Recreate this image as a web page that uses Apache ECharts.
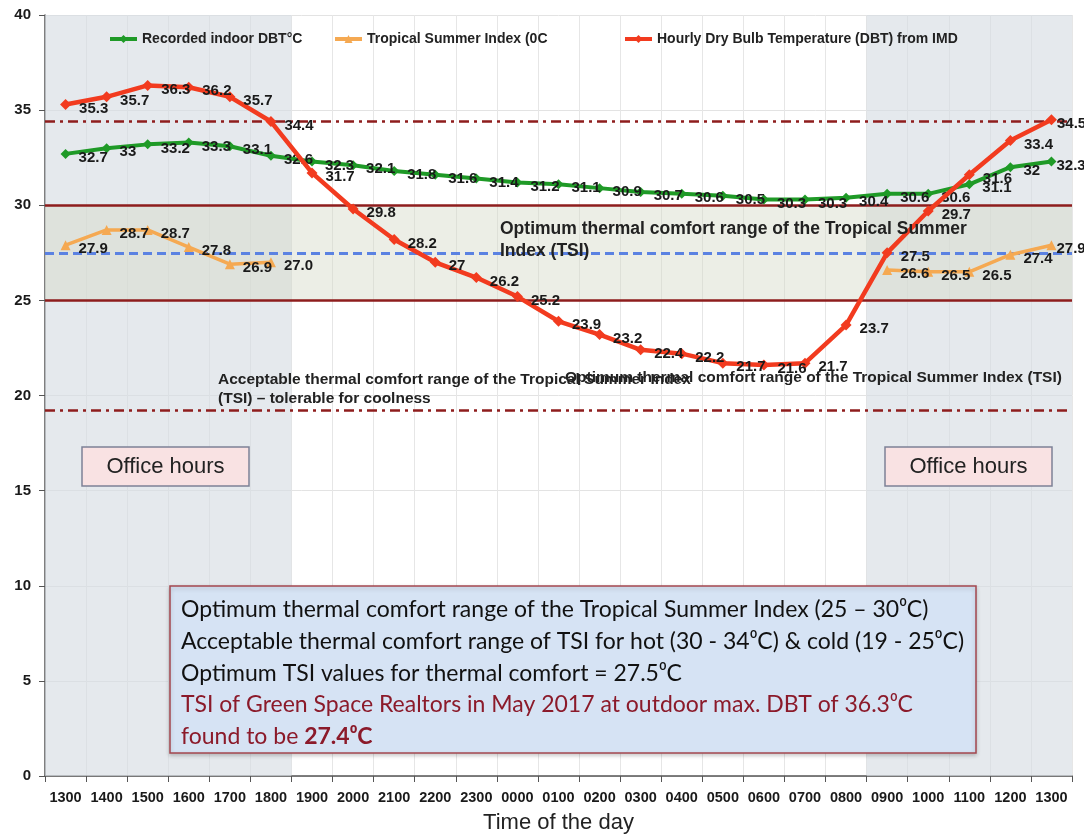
<!DOCTYPE html>
<html>
<head>
<meta charset="utf-8">
<script src="https://cdn.jsdelivr.net/npm/echarts@6/dist/echarts.min.js"></script>
<style>html,body{margin:0;padding:0;background:#fff}#c{width:1084px;height:835px}</style>
</head>
<body>
<div id="c"></div>
<script>
// ---- data ----
const categories = ['1300','1400','1500','1600','1700','1800','1900','2000','2100','2200','2300','0000','0100','0200','0300','0400','0500','0600','0700','0800','0900','1000','1100','1200','1300'];
const indoorDBT = [32.7,33,33.2,33.3,33.1,32.6,32.3,32.1,31.8,31.6,31.4,31.2,31.1,30.9,30.7,30.6,30.5,30.3,30.3,30.4,30.6,30.6,31.1,32,32.3];
const tsi = [27.9,28.7,28.7,27.8,26.9,27.0,null,null,null,null,null,null,null,null,null,null,null,null,null,null,26.6,26.5,26.5,27.4,27.9];
const outdoorDBT = [35.3,35.7,36.3,36.2,35.7,34.4,31.7,29.8,28.2,27,26.2,25.2,23.9,23.2,22.4,22.2,21.7,21.6,21.7,23.7,27.5,29.7,31.6,33.4,34.5];
const yTicks = {min:0, max:40, interval:5};
const comfortBand = [25, 30];
const optimumTSI = 27.5;
const acceptableLimits = [34.4, 19.2];
const officeSpans = [[0,5],[20,24]]; // category index ranges
const seriesNames = ['Recorded indoor DBT°C','Tropical Summer Index (0C','Hourly Dry Bulb Temperature (DBT) from IMD'];

const chart = echarts.init(document.getElementById('c'));
const F = 'Liberation Sans, Arial, sans-serif';
const darkRed = '#8e1d1d';
const labelStyle = {show:true, position:'right', offset:[3,4], color:'#1a1a1a', fontSize:15, fontWeight:'bold', fontFamily:F};
const lastIdx = categories.length - 1;
// last-point labels are pulled in so they stay inside the canvas
function withLabels(arr){
  return arr.map((v,i)=> i===lastIdx ? {value:v, label:{offset:[-5,4]}} : v);
}
const legendText = {fontSize:14, fontWeight:'bold', fontFamily:F, color:'#222'};

const option = {
  animation:false,
  grid:{left:45, right:12, top:15, bottom:59, containLabel:false, outerBoundsMode:'none'},
  legend:[
    {data:[seriesNames[0]], left:103, top:27, itemWidth:27, itemHeight:10, lineStyle:{width:4}, textStyle:legendText},
    {data:[seriesNames[1]], left:328, top:27, itemWidth:27, itemHeight:10, lineStyle:{width:4}, textStyle:legendText},
    {data:[seriesNames[2]], left:618, top:27, itemWidth:27, itemHeight:10, lineStyle:{width:4}, textStyle:legendText}
  ],
  xAxis:[
    {type:'category', data:categories, boundaryGap:true,
     name:'Time of the day', nameLocation:'middle', nameGap:36,
     nameTextStyle:{fontSize:22, fontFamily:F, color:'#222'},
     axisLine:{onZero:false, lineStyle:{color:'#555', width:1.5}},
     axisTick:{show:true, interval:0, length:6, lineStyle:{color:'#555'}},
     axisLabel:{interval:0, margin:14, fontSize:14.5, fontWeight:'bold', fontFamily:F, color:'#1a1a1a'},
     splitLine:{show:true, interval:0, lineStyle:{color:'#e6e6e6', width:1}}},
    {type:'value', min:-0.5, max:categories.length-0.5, show:false}
  ],
  yAxis:{type:'value', min:yTicks.min, max:yTicks.max, interval:yTicks.interval,
     axisLine:{show:true, onZero:false, lineStyle:{color:'#555', width:1.5}},
     axisTick:{show:true, length:6, lineStyle:{color:'#555'}},
     axisLabel:{margin:14, fontSize:15, fontWeight:'bold', fontFamily:F, color:'#1a1a1a'},
     splitLine:{show:true, lineStyle:{color:'#e3e3e3', width:1}}},
  series:[
    {type:'line', xAxisIndex:1, data:[], silent:true, z:1,
     markArea:{silent:true, itemStyle:{color:'rgba(215,221,228,0.65)'},
       data: officeSpans.map(s=>[{xAxis:s[0]-0.5},{xAxis:s[1]+0.5}])}},
    {type:'line', xAxisIndex:1, data:[], silent:true, z:2,
     markArea:{silent:true, itemStyle:{color:'rgba(212,218,200,0.45)'},
       data:[[{yAxis:comfortBand[0]},{yAxis:comfortBand[1]}]]},
     markLine:{silent:true, symbol:'none', label:{show:false},
       data:[
         {yAxis:comfortBand[0], lineStyle:{color:darkRed, width:2.5, type:'solid'}},
         {yAxis:comfortBand[1], lineStyle:{color:darkRed, width:2.5, type:'solid'}},
         {yAxis:acceptableLimits[0], lineStyle:{color:darkRed, width:2.5, type:[10,5,3,5]}},
         {yAxis:acceptableLimits[1], lineStyle:{color:darkRed, width:2.5, type:[10,5,3,5]}},
         {yAxis:optimumTSI, lineStyle:{color:'#5b82e2', width:3, type:[9,5]}}
       ]}},
    {name:seriesNames[0], type:'line', data:withLabels(indoorDBT), z:5, symbol:'diamond', symbolSize:10,
     itemStyle:{color:'#1f9a27'}, lineStyle:{color:'#1f9a27', width:4}, label:labelStyle},
    {name:seriesNames[1], type:'line', data:withLabels(tsi), z:5, symbol:'triangle', symbolSize:10, connectNulls:false,
     itemStyle:{color:'#f5a952'}, lineStyle:{color:'#f5a952', width:3.5},
     label:Object.assign({}, labelStyle, {formatter:p=>p.value==null?'':Number(p.value).toFixed(1)})},
    {name:seriesNames[2], type:'line', data:withLabels(outdoorDBT), z:6, symbol:'diamond', symbolSize:11,
     itemStyle:{color:'#f23b1f'}, lineStyle:{color:'#f23b1f', width:4.5}, label:labelStyle}
  ],
  graphic:[
    {type:'text', x:500, y:240, z:10, style:{text:'Optimum thermal comfort range of the Tropical Summer\nIndex (TSI)', font:'bold 17.5px '+F, fill:'#222', lineHeight:22, verticalAlign:'middle', textVerticalAlign:'middle'}},
    {type:'text', x:218, y:370, z:10, style:{text:'Acceptable thermal comfort range of the Tropical Summer Index\n(TSI) – tolerable for coolness', font:'bold 15.5px '+F, fill:'#222', lineHeight:19, verticalAlign:'top', textVerticalAlign:'top'}},
    {type:'text', x:565, y:370, z:10, style:{text:'Optimum thermal comfort range of the Tropical Summer Index (TSI)', font:'bold 15.5px '+F, fill:'#222', verticalAlign:'top', textVerticalAlign:'top'}},
    {type:'rect', z:10, shape:{x:82, y:447, width:167, height:39}, style:{fill:'#f9e2e3', stroke:'#7d8197', lineWidth:1.5}},
    {type:'text', z:11, x:165.5, y:467, style:{text:'Office hours', font:'22px '+F, fill:'#222', align:'center', textAlign:'center', verticalAlign:'middle', textVerticalAlign:'middle'}},
    {type:'rect', z:10, shape:{x:885, y:447, width:167, height:39}, style:{fill:'#f9e2e3', stroke:'#7d8197', lineWidth:1.5}},
    {type:'text', z:11, x:968.5, y:467, style:{text:'Office hours', font:'22px '+F, fill:'#222', align:'center', textAlign:'center', verticalAlign:'middle', textVerticalAlign:'middle'}},
    {type:'rect', z:10, shape:{x:170, y:586, width:806, height:167}, style:{fill:'#d6e3f4', stroke:'#a4474f', lineWidth:1.5, shadowBlur:4, shadowColor:'rgba(0,0,0,0.2)', shadowOffsetY:2}},
    {type:'text', z:11, x:181, y:594, style:{
      text:'{k|Optimum thermal comfort range of the Tropical Summer Index (25 – 30⁰C)}\n{k|Acceptable thermal comfort range of TSI for hot (30 - 34⁰C) & cold (19 - 25⁰C)}\n{k|Optimum TSI values for thermal comfort = 27.5⁰C}\n{r|TSI of Green Space Realtors in May 2017 at outdoor max. DBT of 36.3⁰C}\n{r|found to be }{rb|27.4⁰C}',
      rich:{
        k:{font:'23px Lato, '+F, fill:'#111', color:'#111', lineHeight:31.7},
        r:{font:'23px Lato, '+F, fill:'#8b1a2a', color:'#8b1a2a', lineHeight:31.7},
        rb:{font:'bold 23px Lato, '+F, fill:'#8b1a2a', color:'#8b1a2a', lineHeight:31.7}
      }}}
  ]
};
chart.setOption(option);
</script>
</body>
</html>
